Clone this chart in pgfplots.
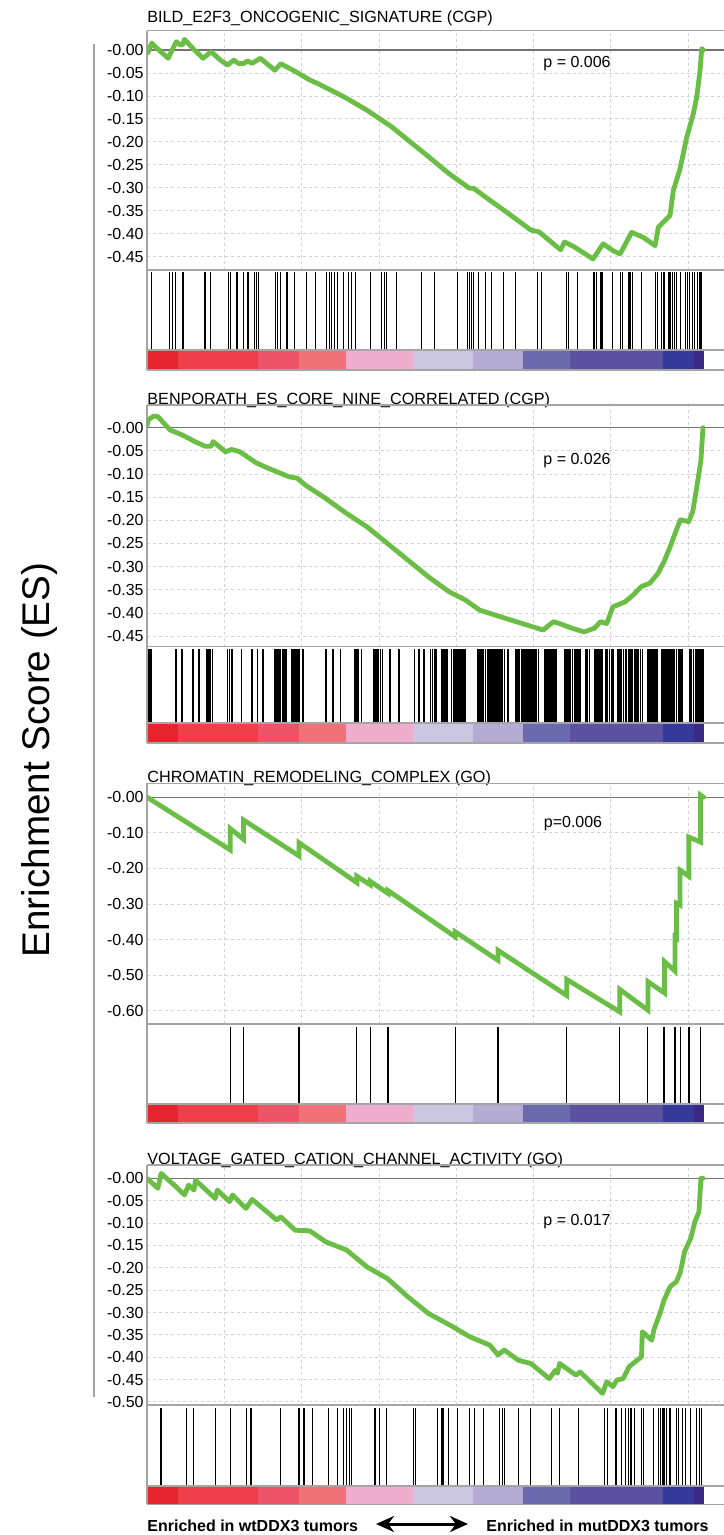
\documentclass[border=0pt]{standalone}
\usepackage{pgfplots}
\pgfplotsset{compat=1.18}
\usepackage{fontspec}
\setmainfont{Liberation Sans}
\usetikzlibrary{arrows.meta}
\definecolor{esgreen}{RGB}{106,189,69}
\definecolor{cbA}{RGB}{230,36,46}
\definecolor{cbB}{RGB}{239,64,74}
\definecolor{cbC}{RGB}{237,84,104}
\definecolor{cbD}{RGB}{240,114,119}
\definecolor{cbE}{RGB}{240,174,207}
\definecolor{cbF}{RGB}{203,199,227}
\definecolor{cbG}{RGB}{180,172,212}
\definecolor{cbH}{RGB}{106,106,175}
\definecolor{cbI}{RGB}{90,82,161}
\definecolor{cbJ}{RGB}{53,57,154}
\definecolor{cbK}{RGB}{58,42,134}
\definecolor{framec}{RGB}{165,165,165}
\definecolor{gridc}{RGB}{210,210,210}
\pgfplotsset{
  common/.style={scale only axis, width=290pt, anchor=north west, xmin=0, xmax=7.503,
    axis x line*=box, axis y line*=left,
    axis line style={-, draw=framec, line width=0.6pt},
    major tick length=0pt, tick style={draw=none}},
  esaxis/.style={common,
    xtick={1,2,3,4,5,6,7}, xticklabels={},
    grid=major, major grid style={dash pattern=on 1.5pt off 1.5pt, draw=gridc, line width=0.4pt},
    yticklabel style={font=\fontsize{8}{9}\selectfont, inner sep=0.5pt, xshift=-1pt},
    extra y ticks={0}, extra y tick labels={},
    extra y tick style={grid=major, major grid style={solid, draw=black!55, line width=0.6pt}}},
  hitaxis/.style={common, axis on top, xtick=\empty, ytick=\empty,
    extra y ticks={0}, extra y tick labels={},
    extra y tick style={grid=major, major grid style={solid, draw=framec, line width=0.6pt}}},
  esline/.style={esgreen, line width=2.4pt, line join=round, line cap=round},
  hit/.style={ycomb, black, line width=0.6pt},
}
\newcommand{\colorbar}{%
\addplot[fill=cbA, draw=none] coordinates {(0,-1) (0.406,-1) (0.406,0) (0,0)};
\addplot[fill=cbB, draw=none] coordinates {(0.406,-1) (1.433,-1) (1.433,0) (0.406,0)};
\addplot[fill=cbC, draw=none] coordinates {(1.433,-1) (1.968,-1) (1.968,0) (1.433,0)};
\addplot[fill=cbD, draw=none] coordinates {(1.968,-1) (2.579,-1) (2.579,0) (1.968,0)};
\addplot[fill=cbE, draw=none] coordinates {(2.579,-1) (3.435,-1) (3.435,0) (2.579,0)};
\addplot[fill=cbF, draw=none] coordinates {(3.435,-1) (4.223,-1) (4.223,0) (3.435,0)};
\addplot[fill=cbG, draw=none] coordinates {(4.223,-1) (4.868,-1) (4.868,0) (4.223,0)};
\addplot[fill=cbH, draw=none] coordinates {(4.868,-1) (5.466,-1) (5.466,0) (4.868,0)};
\addplot[fill=cbI, draw=none] coordinates {(5.466,-1) (6.679,-1) (6.679,0) (5.466,0)};
\addplot[fill=cbJ, draw=none] coordinates {(6.679,-1) (7.070,-1) (7.070,0) (6.679,0)};
\addplot[fill=cbK, draw=none] coordinates {(7.070,-1) (7.207,-1) (7.207,0) (7.070,0)};
}
\begin{document}
\begin{tikzpicture}
\useasboundingbox (0,0) rectangle (361.5pt,-767.5pt);
% left label and line
\draw[framec, line width=0.75pt] (47pt,-22pt) -- (47pt,-698.5pt);
\node[rotate=90, font=\fontsize{19.3}{22}\selectfont] at (20pt,-380pt) {Enrichment Score (ES)};

% ================= Panel 1
\node[anchor=base west, inner sep=0pt, font=\fontsize{8.1}{9}\selectfont] at (73.5pt,-11.35pt) {BILD\_E2F3\_ONCOGENIC\_SIGNATURE (CGP)};
\begin{axis}[esaxis, at={(73.5pt,-15.35pt)}, height=119.65pt, ymin=-0.479, ymax=0.042,
  ytick={0,-0.05,-0.1,-0.15,-0.2,-0.25,-0.3,-0.35,-0.4,-0.45},
  yticklabels={-0.00,-0.05,-0.10,-0.15,-0.20,-0.25,-0.30,-0.35,-0.40,-0.45}]
\addplot[esline] coordinates {(0,0) (0.008,-0.007) (0.061,0.015) (0.12,0.005) (0.273,-0.018) (0.379,0.018) (0.42,0.012) (0.459,0.011) (0.485,0.023) (0.591,0.004) (0.724,-0.018) (0.830,-0.004) (0.95,-0.022) (1.042,-0.033) (1.121,-0.022) (1.19,-0.030) (1.254,-0.029) (1.30,-0.024) (1.360,-0.029) (1.466,-0.018) (1.652,-0.044) (1.731,-0.030) (1.890,-0.044) (2.102,-0.065) (2.208,-0.073) (2.420,-0.091) (2.580,-0.105) (2.845,-0.131) (3.163,-0.167) (3.375,-0.196) (3.640,-0.232) (3.905,-0.269) (4.170,-0.301) (4.223,-0.301) (4.435,-0.327) (4.700,-0.359) (4.965,-0.392) (5.071,-0.396) (5.35,-0.435) (5.40,-0.418) (5.52,-0.428) (5.77,-0.455) (5.90,-0.422) (6.03,-0.437) (6.12,-0.444) (6.27,-0.397) (6.42,-0.408) (6.572,-0.426) (6.615,-0.386) (6.766,-0.360) (6.809,-0.306) (6.895,-0.259) (6.982,-0.190) (7.067,-0.139) (7.111,-0.103) (7.154,-0.045) (7.176,0.003) (7.197,0)};
\end{axis}
\node[font=\fontsize{8}{9}\selectfont] at (288.5pt,-31.65pt) {p = 0.006};
\begin{axis}[hitaxis, at={(73.5pt,-135pt)}, height=50pt, ymin=-0.2564, ymax=1.0256]
\colorbar
\addplot[hit] coordinates {(0.059,1) (0.294,1) (0.333,1) (0.367,1) (0.465,1) (0.749,1) (0.822,1) (1.052,1) (1.076,1) (1.165,1) (1.248,1) (1.306,1) (1.394,1) (1.419,1) (1.443,1) (1.664,1) (1.688,1) (1.727,1) (1.810,1) (1.908,1) (2.065,1) (2.177,1) (2.324,1) (2.358,1) (2.388,1) (2.422,1) (2.461,1) (2.544,1) (2.608,1) (2.642,1) (2.701,1) (2.896,1) (3.033,1) (3.068,1) (3.097,1) (3.229,1) (3.547,1) (3.718,1) (4.012,1) (4.149,1) (4.169,1) (4.198,1) (4.222,1) (4.291,1) (4.379,1) (4.452,1) (4.614,1) (4.770,1) (5.049,1) (5.103,1) (5.431,1) (5.455,1) (5.568,1) (5.783,1) (5.812,1) (5.871,1) (5.886,1) (6.018,1) (6.130,1) (6.150,1) (6.228,1) (6.248,1) (6.277,1) (6.399,1) (6.580,1) (6.605,1) (6.654,1) (6.688,1) (6.752,1) (6.776,1) (6.801,1) (6.825,1) (6.850,1) (6.903,1) (6.962,1) (6.996,1) (7.021,1) (7.055,1) (7.084,1) (7.119,1) (7.143,1) (7.167,1)};
\end{axis}

% ================= Panel 2
\node[anchor=base west, inner sep=0pt, font=\fontsize{8.1}{9}\selectfont] at (73.5pt,-202pt) {BENPORATH\_ES\_CORE\_NINE\_CORRELATED (CGP)};
\begin{axis}[esaxis, at={(73.5pt,-202.5pt)}, height=120.85pt, ymin=-0.473, ymax=0.049,
  ytick={0,-0.05,-0.1,-0.15,-0.2,-0.25,-0.3,-0.35,-0.4,-0.45},
  yticklabels={-0.00,-0.05,-0.10,-0.15,-0.20,-0.25,-0.30,-0.35,-0.40,-0.45}]
\addplot[esline] coordinates {(0,0.005) (0.016,0.017) (0.087,0.025) (0.140,0.024) (0.300,-0.005) (0.459,-0.016) (0.618,-0.030) (0.750,-0.040) (0.830,-0.040) (0.856,-0.030) (1.015,-0.052) (1.095,-0.047) (1.201,-0.052) (1.413,-0.076) (1.572,-0.088) (1.678,-0.095) (1.837,-0.106) (1.943,-0.109) (2.049,-0.124) (2.314,-0.153) (2.580,-0.185) (2.845,-0.214) (3.110,-0.250) (3.375,-0.286) (3.640,-0.322) (3.905,-0.354) (4.117,-0.372) (4.303,-0.394) (4.435,-0.401) (4.700,-0.415) (4.912,-0.426) (5.124,-0.437) (5.257,-0.419) (5.337,-0.423) (5.496,-0.433) (5.655,-0.441) (5.788,-0.433) (5.867,-0.419) (5.947,-0.423) (6.026,-0.387) (6.185,-0.376) (6.291,-0.361) (6.397,-0.343) (6.503,-0.336) (6.609,-0.315) (6.689,-0.289) (6.768,-0.257) (6.848,-0.221) (6.901,-0.199) (7.007,-0.203) (7.060,-0.181) (7.113,-0.127) (7.166,-0.070) (7.192,0)};
\end{axis}
\node[font=\fontsize{8}{9}\selectfont] at (288.5pt,-230.5pt) {p = 0.026};
\begin{axis}[hitaxis, at={(73.5pt,-323.35pt)}, height=48.15pt, ymin=-0.2717, ymax=1.0367]
\colorbar
\addplot[hit, line width=0.85pt] coordinates {(0.025,1) (0.049,1) (0.377,1) (0.450,1) (0.597,1) (0.675,1) (0.773,1) (0.798,1) (0.822,1) (0.846,1) (1.042,1) (1.067,1) (1.101,1) (1.223,1) (1.355,1) (1.429,1) (1.502,1) (1.649,1) (1.668,1) (1.688,1) (1.707,1) (1.727,1) (1.751,1) (1.776,1) (1.800,1) (1.874,1) (1.893,1) (1.918,1) (1.942,1) (1.967,1) (2.016,1) (2.314,1) (2.407,1) (2.505,1) (2.691,1) (2.710,1) (2.730,1) (2.774,1) (2.935,1) (2.960,1) (2.989,1) (3.019,1) (3.048,1) (3.141,1) (3.263,1) (3.459,1) (3.522,1) (3.586,1) (3.669,1) (3.694,1) (3.718,1) (3.743,1) (3.816,1) (3.840,1) (3.865,1) (3.889,1) (3.938,1) (3.963,1) (3.987,1) (4.012,1) (4.036,1) (4.061,1) (4.085,1) (4.110,1) (4.281,1) (4.305,1) (4.330,1) (4.354,1) (4.379,1) (4.403,1) (4.428,1) (4.452,1) (4.477,1) (4.501,1) (4.526,1) (4.550,1) (4.575,1) (4.599,1) (4.623,1) (4.672,1) (4.770,1) (4.795,1) (4.819,1) (4.844,1) (4.868,1) (4.892,1) (4.917,1) (4.941,1) (4.966,1) (4.990,1) (5.015,1) (5.039,1) (5.064,1) (5.152,1) (5.176,1) (5.201,1) (5.225,1) (5.250,1) (5.274,1) (5.299,1) (5.406,1) (5.431,1) (5.455,1) (5.480,1) (5.504,1) (5.529,1) (5.553,1) (5.577,1) (5.602,1) (5.675,1) (5.700,1) (5.724,1) (5.788,1) (5.812,1) (5.837,1) (5.861,1) (5.886,1) (5.935,1) (5.959,1) (5.984,1) (6.008,1) (6.032,1) (6.091,1) (6.116,1) (6.140,1) (6.165,1) (6.199,1) (6.228,1) (6.248,1) (6.277,1) (6.311,1) (6.336,1) (6.360,1) (6.385,1) (6.409,1) (6.483,1) (6.507,1) (6.531,1) (6.556,1) (6.580,1) (6.605,1) (6.654,1) (6.678,1) (6.703,1) (6.727,1) (6.752,1) (6.776,1) (6.801,1) (6.825,1) (6.850,1) (6.874,1) (6.898,1) (6.923,1) (7.021,1) (7.045,1) (7.070,1) (7.094,1) (7.119,1) (7.143,1) (7.167,1) (7.192,1)};
\end{axis}

% ================= Panel 3
\node[anchor=base west, inner sep=0pt, font=\fontsize{8.1}{9}\selectfont] at (73.5pt,-391.35pt) {CHROMATIN\_REMODELING\_COMPLEX (GO)};
\begin{axis}[esaxis, at={(73.5pt,-391.65pt)}, height=120.35pt, ymin=-0.637, ymax=0.039,
  ytick={0,-0.1,-0.2,-0.3,-0.4,-0.5,-0.6},
  yticklabels={-0.00,-0.10,-0.20,-0.30,-0.40,-0.50,-0.60}]
\addplot[esline, line join=miter] coordinates {(0,0) (1.076,-0.148) (1.076,-0.088) (1.248,-0.118) (1.248,-0.064) (1.967,-0.165) (1.967,-0.128) (2.715,-0.240) (2.715,-0.222) (2.887,-0.246) (2.887,-0.236) (3.117,-0.270) (3.117,-0.262) (3.987,-0.392) (3.987,-0.378) (4.540,-0.458) (4.540,-0.430) (5.431,-0.557) (5.431,-0.512) (6.116,-0.603) (6.116,-0.540) (6.480,-0.598) (6.480,-0.518) (6.695,-0.550) (6.695,-0.462) (6.830,-0.488) (6.830,-0.392) (6.850,-0.395) (6.850,-0.298) (6.895,-0.303) (6.895,-0.205) (7.010,-0.222) (7.010,-0.112) (7.160,-0.126) (7.160,0.006) (7.200,0.0)};
\end{axis}
\node[font=\fontsize{8}{9}\selectfont] at (286.5pt,-411.65pt) {p=0.006};
\begin{axis}[hitaxis, at={(73.5pt,-512pt)}, height=49.5pt, ymin=-0.2458, ymax=1.035]
\colorbar
\addplot[hit] coordinates {(1.076,1) (1.248,1) (1.967,1) (2.715,1) (2.887,1) (3.117,1) (3.987,1) (4.540,1) (5.431,1) (6.116,1) (6.473,1) (6.688,1) (6.825,1) (6.840,1) (6.898,1) (7.011,1) (7.158,1)};
\end{axis}

% ================= Panel 4
\node[anchor=base west, inner sep=0pt, font=\fontsize{8.1}{9}\selectfont] at (73.5pt,-582pt) {VOLTAGE\_GATED\_CATION\_CHANNEL\_ACTIVITY (GO)};
\begin{axis}[esaxis, at={(73.5pt,-582.5pt)}, height=120pt, ymin=-0.507, ymax=0.030,
  ytick={0,-0.05,-0.1,-0.15,-0.2,-0.25,-0.3,-0.35,-0.4,-0.45,-0.5},
  yticklabels={-0.00,-0.05,-0.10,-0.15,-0.20,-0.25,-0.30,-0.35,-0.40,-0.45,-0.50}]
\addplot[esline] coordinates {(0,0) (0.140,-0.022) (0.183,0.011) (0.352,-0.015) (0.485,-0.037) (0.538,-0.015) (0.607,-0.026) (0.628,-0.004) (0.883,-0.045) (0.909,-0.026) (1.068,-0.052) (1.106,-0.037) (1.280,-0.067) (1.360,-0.047) (1.678,-0.093) (1.731,-0.086) (1.917,-0.116) (2.102,-0.117) (2.314,-0.142) (2.580,-0.160) (2.845,-0.198) (3.110,-0.224) (3.375,-0.265) (3.640,-0.302) (3.799,-0.317) (3.958,-0.332) (4.170,-0.354) (4.435,-0.373) (4.541,-0.395) (4.621,-0.384) (4.806,-0.407) (4.965,-0.414) (5.204,-0.448) (5.284,-0.429) (5.310,-0.436) (5.337,-0.414) (5.549,-0.440) (5.602,-0.433) (5.893,-0.481) (5.947,-0.455) (6.026,-0.466) (6.079,-0.451) (6.159,-0.448) (6.238,-0.421) (6.318,-0.410) (6.397,-0.399) (6.408,-0.343) (6.530,-0.362) (6.556,-0.339) (6.636,-0.302) (6.689,-0.272) (6.768,-0.242) (6.848,-0.231) (6.901,-0.209) (6.954,-0.164) (7.034,-0.134) (7.087,-0.097) (7.140,-0.075) (7.166,0.0) (7.192,0.0)};
\end{axis}
\node[font=\fontsize{8}{9}\selectfont] at (288.5pt,-610.85pt) {p = 0.017};
\begin{axis}[hitaxis, at={(73.5pt,-702.5pt)}, height=49.65pt, ymin=-0.2355, ymax=1.0425]
\colorbar
\addplot[hit] coordinates {(0.181,1) (0.514,1) (0.597,1) (0.891,1) (1.076,1) (1.287,1) (1.346,1) (1.722,1) (1.967,1) (2.030,1) (2.143,1) (2.348,1) (2.461,1) (2.544,1) (2.578,1) (2.618,1) (2.642,1) (2.950,1) (3.009,1) (3.097,1) (3.449,1) (3.474,1) (3.753,1) (3.816,1) (3.831,1) (3.904,1) (4.012,1) (4.173,1) (4.232,1) (4.354,1) (4.565,1) (4.599,1) (4.623,1) (4.809,1) (4.956,1) (5.235,1) (5.333,1) (5.577,1) (5.920,1) (5.954,1) (6.067,1) (6.140,1) (6.189,1) (6.228,1) (6.262,1) (6.311,1) (6.399,1) (6.419,1) (6.556,1) (6.620,1) (6.639,1) (6.668,1) (6.688,1) (6.717,1) (6.766,1) (6.850,1) (6.874,1) (6.923,1) (6.962,1) (7.035,1) (7.109,1) (7.143,1) (7.177,1)};
\end{axis}

% bottom labels
\node[anchor=base west, inner sep=0pt, font=\bfseries\fontsize{8}{9}\selectfont] at (73.5pt,-765.5pt) {Enriched in wtDDX3 tumors};
\node[anchor=base east, inner sep=0pt, font=\bfseries\fontsize{8}{9}\selectfont] at (354.5pt,-765.5pt) {Enriched in mutDDX3 tumors};
\draw[line width=1.5pt, {Stealth[length=9pt,width=8pt]}-{Stealth[length=9pt,width=8pt]}] (188pt,-762pt) -- (234pt,-762pt);
\end{tikzpicture}
\end{document}
